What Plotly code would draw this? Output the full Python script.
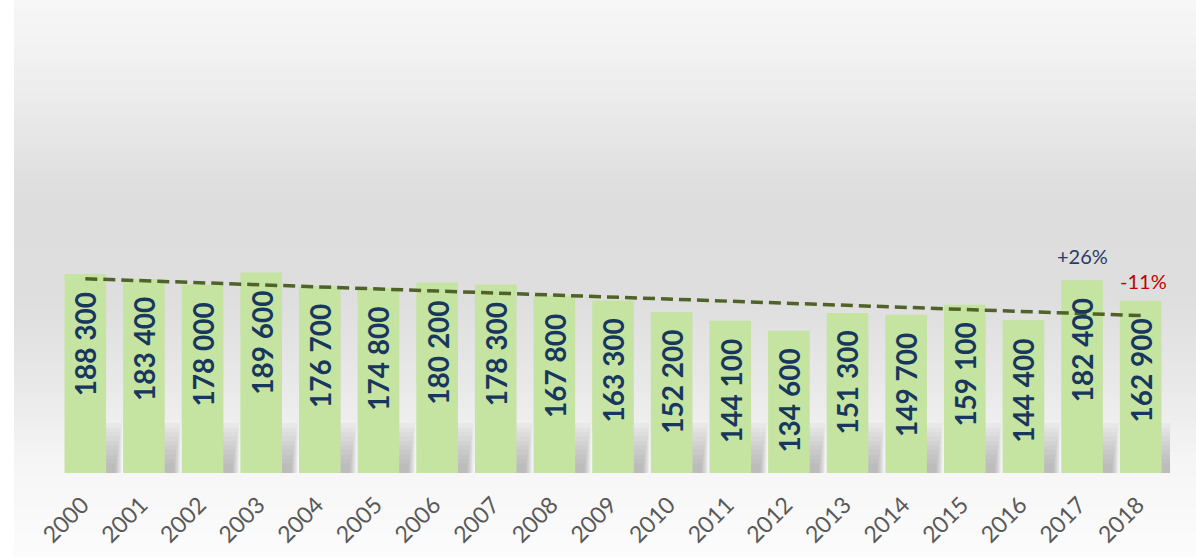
import numpy as np
import plotly.graph_objects as go

years = [str(y) for y in range(2000, 2019)]
values = [188300, 183400, 178000, 189600, 176700, 174800, 180200, 178300, 167800,
          163300, 152200, 144100, 134600, 151300, 149700, 159100, 144400, 182400, 162900]

W, H = 1196, 557
ML, MR, MT, MB = 56, 26, 0, 84
YMAX = 447500
pw = W - ML - MR
ph = H - MT - MB

def px_x(p):
    return (p - ML) / pw

def px_y(p):
    return (H - MB - p) / ph

xi = np.arange(len(values))

fig = go.Figure()

# background gradient (pixel y -> gray level)
stops = [(0, 247), (60, 241), (200, 221), (300, 222), (380, 232), (470, 246), (557, 252)]
shapes = []
nb = 90
for k in range(nb):
    y0 = H * k / nb
    y1 = H * (k + 1) / nb
    ym = (y0 + y1) / 2
    g = int(round(np.interp(ym, [s[0] for s in stops], [s[1] for s in stops])))
    shapes.append(dict(type="rect", xref="paper", yref="paper",
                       x0=px_x(14), x1=px_x(W + 2), y0=px_y(y1 + 0.5), y1=px_y(y0 - 0.5),
                       fillcolor=f"rgb({g},{g},{g})", line=dict(width=0), layer="below"))

# soft shadows beside bar bottoms
nl = 10
for i in xi:
    for j in range(nl):
        hh = 50 - j * 4.5
        shapes.append(dict(type="rect", xref="x", yref="paper",
                           x0=float(i) + 0.1 + j * 0.01, x1=float(i) + 0.62 - j * 0.012,
                           y0=0, y1=hh / ph,
                           fillcolor="rgba(100,100,100,0.045)", line=dict(width=0), layer="below"))

fig.add_trace(go.Bar(x=xi, y=values, marker=dict(color="#c5e3a1", line=dict(width=0)),
                     hoverinfo="skip"))

# linear trend
slope, intercept = np.polyfit(xi, values, 1)
trend = slope * xi + intercept
fig.add_trace(go.Scatter(x=xi, y=trend, mode="lines",
                         line=dict(color="#4f6228", width=3.5, dash="12px,6px"),
                         hoverinfo="skip"))

annotations = []
for i, v in zip(xi, values):
    annotations.append(dict(x=float(i), y=v, xref="x", yref="y", text=f"{v:,}".replace(",", " "),
                            textangle=-90, showarrow=False, yanchor="top", xanchor="center",
                            yshift=-16,
                            font=dict(family="Lato", size=28, color="#17375e", weight="bold")))

p17 = round((values[17] / values[16] - 1) * 100)
p18 = round((values[18] / values[17] - 1) * 100)
annotations.append(dict(x=17, y=values[17], xref="x", yref="y", text=f"{p17:+d}%", showarrow=False,
                        yanchor="bottom", yshift=10,
                        font=dict(family="Lato", size=20, color="#2b3a67")))
annotations.append(dict(x=18, y=values[18], xref="x", yref="y", text=f"{p18:+d}%", showarrow=False,
                        yanchor="bottom", xshift=3, yshift=6,
                        font=dict(family="Lato", size=20, color="#c00000")))

fig.update_layout(
    width=W, height=H,
    margin=dict(l=ML, r=MR, t=MT, b=MB, autoexpand=False),
    paper_bgcolor="white", plot_bgcolor="rgba(0,0,0,0)",
    bargap=0.29, showlegend=False,
    shapes=shapes, annotations=annotations,
    xaxis=dict(range=[-0.5, len(values) - 0.5], tickmode="array", tickvals=list(xi), ticktext=years,
               tickangle=-45, showgrid=False, zeroline=False, showline=False, automargin=False,
               ticks="", ticklabelstandoff=13, ticklabelshift=-3,
               tickfont=dict(family="Lato", size=23, color="#595959")),
    yaxis=dict(range=[0, YMAX], visible=False, showgrid=False, zeroline=False),
)

fig.write_html("out.html", config={"displayModeBar": False},
               post_script="document.body.style.margin='0';document.body.style.overflow='hidden';")
